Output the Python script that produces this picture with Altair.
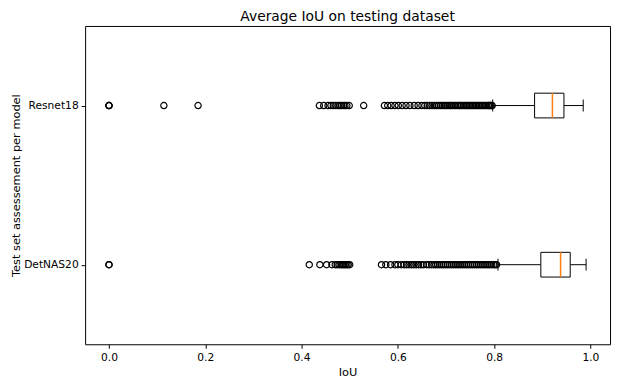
import altair as alt
import pandas as pd

models = ["Resnet18", "DetNAS20"]
q1 = [0.884, 0.897]
medians = [0.921, 0.938]
q3 = [0.945, 0.958]
whisker_low = [0.797, 0.808]
whisker_high = [0.985, 0.991]

resnet_outliers = [0.0, 0.0, 0.0, 0.114, 0.185,
                   0.437, 0.446, 0.455, 0.461, 0.466, 0.471, 0.476, 0.48, 0.483, 0.487, 0.49, 0.494, 0.499,
                   0.529,
                   0.572, 0.579, 0.586, 0.594, 0.601, 0.609, 0.617, 0.625, 0.634, 0.642, 0.65, 0.656, 0.661,
                   0.666, 0.671, 0.676, 0.68, 0.684, 0.688, 0.692, 0.696, 0.699, 0.703, 0.707, 0.71, 0.713,
                   0.717, 0.72, 0.724, 0.727, 0.73, 0.733, 0.737, 0.74, 0.743, 0.746, 0.749, 0.752, 0.755,
                   0.758, 0.761, 0.764, 0.767, 0.77, 0.773, 0.776, 0.779, 0.782, 0.785, 0.788, 0.79, 0.792,
                   0.794, 0.796]

detnas_outliers = [0.0, 0.0, 0.416,
                   0.438, 0.452, 0.463, 0.47, 0.474, 0.478, 0.482, 0.485, 0.488, 0.491, 0.494, 0.497, 0.5,
                   0.566, 0.575, 0.585, 0.594, 0.6, 0.607, 0.613, 0.618, 0.623, 0.628, 0.633, 0.638, 0.643,
                   0.648, 0.653, 0.66, 0.665, 0.67, 0.675, 0.679, 0.683, 0.687, 0.691, 0.695, 0.699, 0.703,
                   0.707, 0.711, 0.715, 0.719, 0.723, 0.727, 0.731, 0.735, 0.739, 0.743, 0.747, 0.751, 0.755,
                   0.759, 0.763, 0.767, 0.771, 0.775, 0.779, 0.783, 0.787, 0.791, 0.795, 0.799, 0.802, 0.805]

x_ticks = [0.0, 0.2, 0.4, 0.6, 0.8, 1.0]

FONT = "DejaVu Sans"

stats = pd.DataFrame({"model": models, "q1": q1, "median": medians, "q3": q3,
                      "wlo": whisker_low, "whi": whisker_high})
caps = pd.DataFrame({"model": models * 2, "value": whisker_low + whisker_high})
outl = pd.DataFrame({
    "model": ["Resnet18"] * len(resnet_outliers) + ["DetNAS20"] * len(detnas_outliers),
    "value": resnet_outliers + detnas_outliers,
})

x_scale = alt.Scale(domain=[-0.0496, 1.0407], nice=False, zero=False)
x_axis = alt.Axis(values=x_ticks, format=".1f", tickSize=4, labelPadding=3, titleY=23,
                  titleBaseline="top", titleFontSize=11.5)


def xe(field):
    return alt.X(field, type="quantitative", scale=x_scale, axis=x_axis, title="IoU")


y_enc = alt.Y("model:N", scale=alt.Scale(type="point", domain=models, padding=0.5),
              title="Test set assessement per model",
              axis=alt.Axis(tickSize=4, labelPadding=3, titleX=-64, titleBaseline="bottom",
                            titleFontSize=11.5))

base_stats = alt.Chart(stats)

w_low = base_stats.mark_rule(color="black", strokeWidth=1).encode(x=xe("wlo"), x2="q1:Q", y=y_enc)
w_high = base_stats.mark_rule(color="black", strokeWidth=1).encode(x=xe("q3"), x2="whi:Q", y=y_enc)
box = base_stats.mark_bar(size=25, fill="white", stroke="black", strokeWidth=1).encode(
    x=xe("q1"), x2="q3:Q", y=y_enc)
med = base_stats.mark_tick(orient="vertical", size=25, thickness=1.5, color="#ff7f0e", opacity=1).encode(
    x=xe("median"), y=y_enc)
cap = alt.Chart(caps).mark_tick(orient="vertical", size=12, thickness=1, color="black", opacity=1).encode(
    x=xe("value"), y=y_enc)
pts = alt.Chart(outl).mark_point(shape="circle", filled=False, size=40, strokeWidth=1.2,
                                 color="black", opacity=1).encode(x=xe("value"), y=y_enc)

chart = alt.layer(w_low, w_high, box, med, cap, pts).properties(
    width=531,
    height=322,
    autosize=alt.AutoSizeParams(type="none"),
    padding={"left": 78, "top": 16, "right": 2, "bottom": 36},
    title=alt.TitleParams(text="Average IoU on testing dataset", font=FONT, fontSize=14,
                          fontWeight="normal", color="black", anchor="middle", frame="group",
                          offset=4, baseline="bottom", dy=16),
).configure_view(stroke="black", strokeWidth=1).configure_axis(
    labelFont=FONT, labelFontSize=10.8, labelColor="black",
    titleFont=FONT, titleFontWeight="normal", titleColor="black",
    tickColor="black", domain=False, grid=False,
)

chart.save("out.html", embed_options={"renderer": "svg", "actions": False})
